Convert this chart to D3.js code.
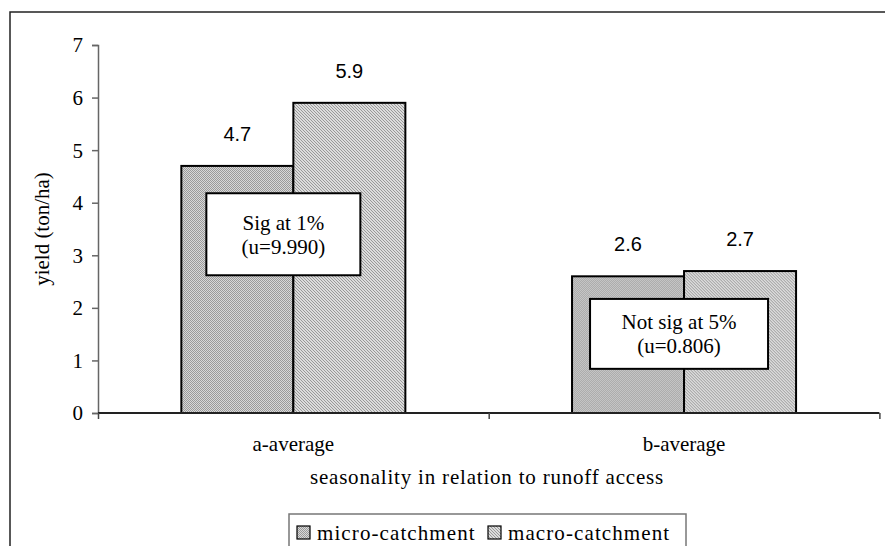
<!DOCTYPE html>
<html><head><meta charset="utf-8">
<script src="https://cdn.jsdelivr.net/npm/d3@7"></script>
<style>body{margin:0;background:#fff}svg{display:block}</style>
</head><body>
<svg id="c" width="885" height="546"></svg>
<script>
const categories = ["a-average", "b-average"];
const seriesNames = ["micro-catchment", "macro-catchment"];
const microValues = [4.7, 2.6];
const macroValues = [5.9, 2.7];
const yTicks = [0, 1, 2, 3, 4, 5, 6, 7];
const yLabel = "yield (ton/ha)";
const xLabel = "seasonality in relation to runoff access";
const noteLines = [["Sig at 1%", "(u=9.990)"], ["Not sig at 5%", "(u=0.806)"]];

const svg = d3.select("#c");
const serif = "'Liberation Serif','Times New Roman',serif";
const sans = "'Liberation Sans',Arial,sans-serif";

// patterns
const defs = svg.append("defs");
const p1 = defs.append("pattern").attr("id","pMicro").attr("width",2).attr("height",2).attr("patternUnits","userSpaceOnUse");
p1.append("rect").attr("width",2).attr("height",2).attr("fill","#d8d8d8");
p1.append("rect").attr("width",1).attr("height",1).attr("fill","#9a9a9a");
p1.append("rect").attr("x",1).attr("y",1).attr("width",1).attr("height",1).attr("fill","#9a9a9a");
const p2 = defs.append("pattern").attr("id","pMacro").attr("width",3).attr("height",3).attr("patternUnits","userSpaceOnUse");
p2.append("rect").attr("width",3).attr("height",3).attr("fill","#dcdcdc");
p2.append("rect").attr("x",0).attr("y",0).attr("width",1).attr("height",1).attr("fill","#999");
p2.append("rect").attr("x",1).attr("y",1).attr("width",1).attr("height",1).attr("fill","#999");
p2.append("rect").attr("x",2).attr("y",2).attr("width",1).attr("height",1).attr("fill","#999");
const fills = ["url(#pMicro)", "url(#pMacro)"];

// outer frame
svg.append("rect").attr("x",10).attr("y",12).attr("width",900).attr("height",600)
  .attr("fill","none").attr("stroke","#222").attr("stroke-width",1.5);

const x0 = d3.scaleBand().domain(categories).range([98, 879.4]).padding(0);
const x1 = d3.scaleBand().domain(seriesNames).range([0, x0.bandwidth()]).paddingInner(0).paddingOuter(0.744);
const y = d3.scaleLinear().domain([0, 7]).range([413, 45]);

const data = categories.map((c, i) => ({cat: c, vals: [
  {s: seriesNames[0], v: microValues[i], k: 0},
  {s: seriesNames[1], v: macroValues[i], k: 1}]}));

// bars
const g = svg.append("g");
g.selectAll("g.cat").data(data).join("g").attr("class","cat")
  .attr("transform", d => `translate(${x0(d.cat)},0)`)
  .each(function(d){
    const gg = d3.select(this);
    gg.selectAll("rect").data(d.vals).join("rect")
      .attr("x", e => x1(e.s)).attr("y", e => y(e.v))
      .attr("width", x1.bandwidth()).attr("height", e => y(0) - y(e.v))
      .attr("fill", e => fills[e.k]).attr("stroke","#000").attr("stroke-width",2);
    gg.selectAll("text").data(d.vals).join("text")
      .attr("x", e => x1(e.s) + x1.bandwidth()/2).attr("y", e => y(e.v) - 25)
      .attr("text-anchor","middle").attr("font-family",sans).attr("font-size",20).attr("fill","#000")
      .text(e => e.v.toFixed(1));
  });

// y axis
const yAxis = d3.axisLeft(y).tickValues(yTicks).tickSize(6).tickPadding(9).tickFormat(d3.format("d"));
const ya = svg.append("g").attr("transform","translate(98,0)").call(yAxis);
ya.select(".domain").attr("stroke","#666").attr("stroke-width",1.5);
ya.selectAll(".tick line").attr("stroke","#666").attr("stroke-width",1.5);
ya.selectAll(".tick text").attr("font-family",serif).attr("font-size",21).attr("fill","#000").attr("dy","0.33em");

// x axis
const xTickScale = d3.scaleLinear().domain([0, categories.length]).range([98, 879.4]);
const xa = svg.append("g").attr("transform","translate(0,413)")
  .call(d3.axisBottom(xTickScale).tickValues(d3.range(categories.length + 1)).tickSize(6).tickFormat(""));
xa.select(".domain").attr("stroke","#222").attr("stroke-width",2).attr("d","M98,0H879.4");
xa.selectAll(".tick line").attr("stroke","#444").attr("stroke-width",1.5);
svg.append("g").selectAll("text").data(categories).join("text")
  .attr("x", d => x0(d) + x0.bandwidth()/2).attr("y", 451)
  .attr("text-anchor","middle").attr("font-family",serif).attr("font-size",21).text(d => d);

// axis titles
svg.append("text").attr("x", 487).attr("y", 484).attr("text-anchor","middle")
  .attr("font-family",serif).attr("font-size",21).attr("letter-spacing",0.8).text(xLabel);
svg.append("text").attr("transform","translate(49,229) rotate(-90)").attr("text-anchor","middle")
  .attr("font-family",serif).attr("font-size",21).text(yLabel);

// annotation boxes
const notes = [
  {cat: categories[0], dx: -10, top: 4.18, bottom: 2.62, w: 154, lines: noteLines[0]},
  {cat: categories[1], dx: -5, top: 2.17, bottom: 0.84, w: 178, lines: noteLines[1]}
];
notes.forEach(n => {
  const cx = x0(n.cat) + x0.bandwidth()/2 + n.dx;
  const t = y(n.top), b = y(n.bottom);
  svg.append("rect").attr("x", cx - n.w/2).attr("y", t).attr("width", n.w).attr("height", b - t)
    .attr("fill","#fff").attr("stroke","#000").attr("stroke-width",2);
  const cy = (t + b)/2;
  n.lines.forEach((ln, i) => {
    svg.append("text").attr("x", cx).attr("y", cy - 12 + i*24).attr("dy","0.35em")
      .attr("text-anchor","middle").attr("font-family",serif).attr("font-size",21).text(ln);
  });
});

// legend
const leg = svg.append("g");
leg.append("rect").attr("x",289).attr("y",514).attr("width",397).attr("height",60)
  .attr("fill","#fff").attr("stroke","#777").attr("stroke-width",1.5);
const legX = [297, 488];
seriesNames.forEach((s, i) => {
  leg.append("rect").attr("x", legX[i]).attr("y", 526).attr("width", 13).attr("height", 13)
    .attr("fill", fills[i]).attr("stroke","#000").attr("stroke-width",1.2);
  leg.append("text").attr("x", legX[i] + 20).attr("y", 540).attr("font-family",serif)
    .attr("font-size",21).attr("letter-spacing",1.1).text(s);
});
</script>
</body></html>
